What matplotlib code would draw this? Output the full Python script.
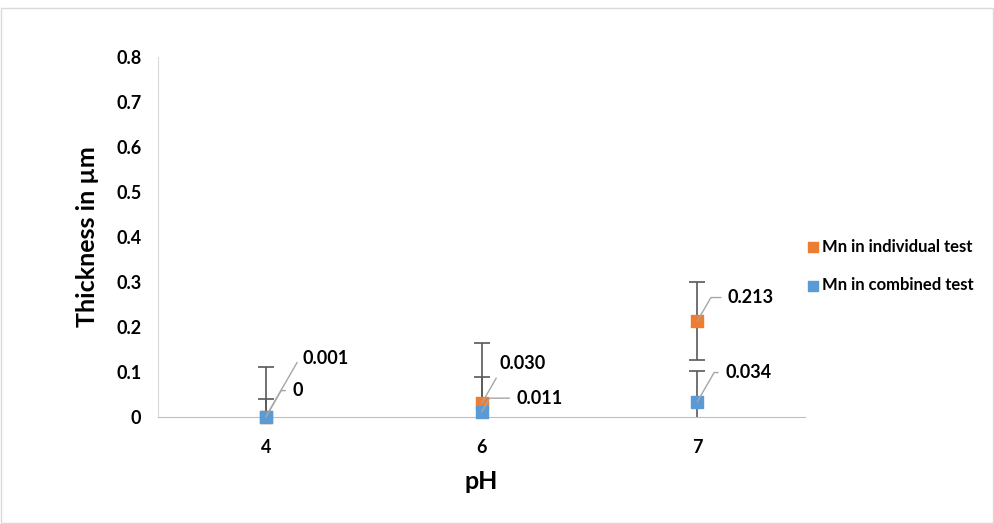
import matplotlib
matplotlib.use("Agg")
import matplotlib.pyplot as plt
from matplotlib.patches import Rectangle
import numpy as np

categories = ["4", "6", "7"]
individual = [0.001, 0.030, 0.213]
individual_err = [0.110, 0.134, 0.087]
combined = [0.0, 0.011, 0.034]
combined_err = [0.040, 0.078, 0.068]
individual_labels = ["0.001", "0.030", "0.213"]
combined_labels = ["0", "0.011", "0.034"]

plt.rcParams['font.family'] = ['Lato', 'DejaVu Sans']
plt.rcParams['font.weight'] = 'bold'

fig = plt.figure(figsize=(9.94, 5.24), dpi=100)
fig.patches.append(Rectangle((0.001, 0.001), 0.998, 0.984, transform=fig.transFigure,
                             fill=False, edgecolor='#D9D9D9', linewidth=1))
ax = fig.add_axes([0.159, 0.2042, 0.651, 0.687])

x = np.arange(len(categories))
orange = '#ED7D31'
blue = '#5B9BD5'
errc = '#595959'

ax.errorbar(x, individual, yerr=individual_err, fmt='none', ecolor=errc, elinewidth=1.2,
            capsize=6, capthick=1.2, zorder=3)
ax.errorbar(x, combined, yerr=combined_err, fmt='none', ecolor=errc, elinewidth=1.2,
            capsize=6, capthick=1.2, zorder=3)
ax.scatter(x, individual, marker='s', s=75, color=orange, zorder=4,
           label='Mn in individual test', clip_on=False)
ax.scatter(x, combined, marker='s', s=75, color=blue, zorder=5,
           label='Mn in combined test', clip_on=False)

ind_off = [(26, 42), (13, 29), (22, 17)]
com_off = [(19, 19), (25, 10), (20, 21)]
for i in range(len(categories)):
    ax.annotate(individual_labels[i], (x[i], individual[i]), xytext=ind_off[i],
                textcoords='offset points', fontsize=13, fontweight='bold', va='center', ha='left',
                arrowprops=dict(arrowstyle='-', color='#A6A6A6', lw=1,
                                connectionstyle='angle,angleA=180,angleB=60,rad=0',
                                shrinkA=3, shrinkB=0), zorder=6)
    ax.annotate(combined_labels[i], (x[i], combined[i]), xytext=com_off[i],
                textcoords='offset points', fontsize=13, fontweight='bold', va='center', ha='left',
                arrowprops=dict(arrowstyle='-', color='#A6A6A6', lw=1,
                                connectionstyle='angle,angleA=180,angleB=60,rad=0',
                                shrinkA=3, shrinkB=0), zorder=6)

ax.set_xlim(-0.5, 2.5)
ax.set_ylim(0, 0.8)
ax.set_yticks(np.arange(0, 0.81, 0.1))
ax.set_yticklabels(['0'] + [f'{v:.1f}' for v in np.arange(0.1, 0.81, 0.1)])
ax.set_xticks(x)
ax.set_xticklabels(categories)
ax.tick_params(axis='both', length=0, labelsize=13, pad=12)
ax.tick_params(axis='x', pad=16)
for lab in ax.get_xticklabels() + ax.get_yticklabels():
    lab.set_fontweight('bold')

for s in ['top', 'right']:
    ax.spines[s].set_visible(False)
ax.spines['left'].set_color('#D9D9D9')
ax.spines['bottom'].set_color('#BFBFBF')

ax.set_ylabel('Thickness in µm', fontsize=18, fontweight='bold', labelpad=12)
ax.set_xlabel('pH', fontsize=18, fontweight='bold', labelpad=10)

leg = ax.legend(loc='center left', bbox_to_anchor=(0.982, 0.42), frameon=False,
                fontsize=12, handlelength=0.5, handletextpad=0.3, labelspacing=1.35,
                markerscale=0.8)
for t in leg.get_texts():
    t.set_fontweight('bold')

fig.savefig('out.png', dpi=100)
